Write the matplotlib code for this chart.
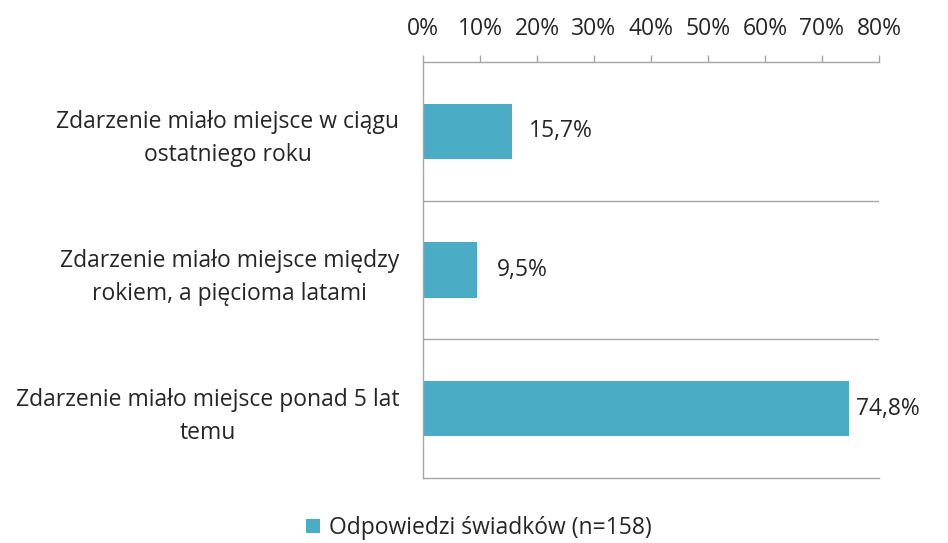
import matplotlib
matplotlib.use('Agg')
import matplotlib.pyplot as plt
from matplotlib.ticker import FuncFormatter

plt.rcParams['font.family'] = ['Open Sans', 'DejaVu Sans']

categories = ['Zdarzenie miało miejsce w ciągu\nostatniego roku',
              'Zdarzenie miało miejsce między\nrokiem, a pięcioma latami',
              'Zdarzenie miało miejsce ponad 5 lat\ntemu']
values = [15.7, 9.5, 74.8]
value_labels = ['15,7%', '9,5%', '74,8%']
x_ticks = [0, 10, 20, 30, 40, 50, 60, 70, 80]
series_name = 'Odpowiedzi świadków (n=158)'

bar_color = '#4BACC6'
line_color = '#A6A6A6'
text_color = '#262626'
fs = 16.5

fig = plt.figure(figsize=(9.48, 5.43), dpi=100)
ax = fig.add_axes([423/948, 1 - 478/543, (879 - 423)/948, (478 - 62)/543])

y_pos = list(range(len(categories)))
bars = ax.barh(y_pos, values, height=0.4, color=bar_color, label=series_name)

ax.set_xlim(0, 80)
ax.set_ylim(2.5, -0.5)
ax.xaxis.tick_top()
ax.set_xticks(x_ticks)
ax.xaxis.set_major_formatter(FuncFormatter(lambda v, p: '%d%%' % v))
ax.tick_params(axis='x', colors=line_color, labelcolor=text_color, labelsize=fs,
               length=5, width=1, pad=10)
ax.set_yticks(y_pos)
ax.set_yticklabels(categories, ha='right', multialignment='center', fontsize=fs,
                   color=text_color, linespacing=1.5)
ax.tick_params(axis='y', length=0, pad=17)

for s in ['top', 'left', 'bottom']:
    ax.spines[s].set_color(line_color)
    ax.spines[s].set_linewidth(1)
ax.spines['right'].set_visible(False)
for b in [0.5, 1.5]:
    ax.axhline(b, color=line_color, linewidth=1)

# data labels beside the bar ends
offsets = [12, 14, 5]
for i, (v, lab) in enumerate(zip(values, value_labels)):
    ax.annotate(lab, xy=(v, y_pos[i]), xytext=(offsets[i], 0),
                textcoords='offset points', va='center', ha='left',
                fontsize=fs, color=text_color, annotation_clip=False)

fig.legend(handles=[bars], labels=[series_name], loc='center',
           bbox_to_anchor=(0.505, 1 - 528/543), frameon=False, fontsize=fs,
           handlelength=0.6, handleheight=0.6, handletextpad=0.4,
           labelcolor=text_color)

fig.savefig('out.png', dpi=100)
